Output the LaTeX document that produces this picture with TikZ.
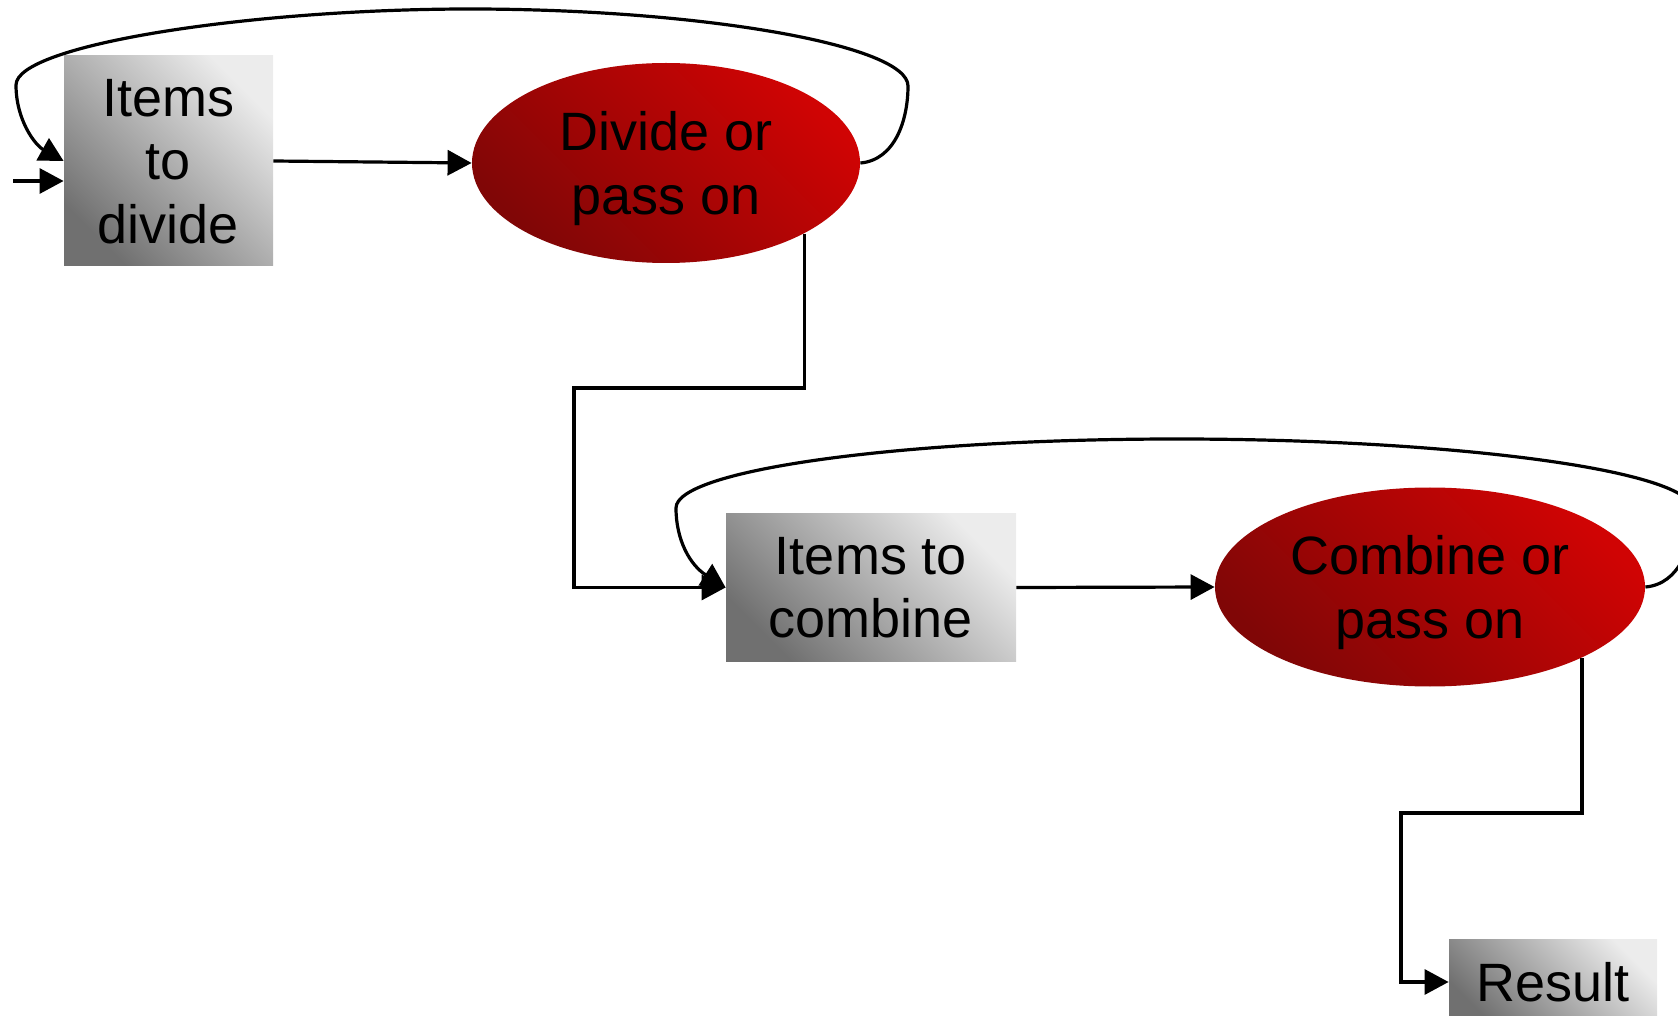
\documentclass[tikz,border=0pt]{standalone}
\usepackage{fontspec}
\setmainfont{Liberation Sans}
\usetikzlibrary{shapes.geometric,arrows.meta}
\definecolor{boxlight}{RGB}{236,236,236}
\definecolor{boxdark}{RGB}{112,112,112}
\definecolor{redlight}{RGB}{208,4,4}
\definecolor{reddark}{RGB}{128,6,6}
\begin{document}
\begin{tikzpicture}[x=0.5pt,y=-0.5pt,
  conn/.style={line width=1.6pt, draw=black},
  arr/.style={conn, -{Triangle[length=12pt,width=12.5pt]}},
  labelfont/.style={font=\fontsize{27}{31.75}\selectfont, align=center, text depth=0pt},
  gbox/.style={rectangle, inner sep=0pt, top color=boxlight, bottom color=boxdark, shading angle=-45, labelfont},
  redell/.style={ellipse, inner sep=0pt, top color=redlight, bottom color=reddark, shading angle=-45, labelfont}]
\clip (0,0) rectangle (1678,1016);
\node[gbox, minimum width=104.5pt, minimum height=105pt] (b1) at (168.5,161) {Items\\to\\divide};
\node[redell, minimum width=194pt, minimum height=100pt] (e1) at (666,163) {Divide or\\pass on};
\node[gbox, minimum width=145pt, minimum height=73.5pt] (b2) at (871,587.5) {Items to\\combine};
\node[redell, minimum width=215pt, minimum height=99.5pt] (e2) at (1430,587) {Combine or\\pass on};
\node[gbox, minimum width=104pt, minimum height=43pt] (res) at (1553,982) {Result};
\coordinate (in) at (13,181);
\draw[arr] (in) -- (in -| b1.west);
\draw[arr] (b1.east) -- (e1.west);
\draw[arr] (e1.east) .. controls (895,160) and (908,120) .. (908,86)
  .. controls (908,45) and (700,9) .. (470,9)
  .. controls (250,9) and (16,45) .. (16,85)
  .. controls (16,120) and (35,145) .. (b1.west);
\coordinate (k1) at (574,388);
\draw[arr] (e1.-27.4) |- (k1) |- (b2.west);
\draw[arr] (b2.east) -- (e2.west);
\draw[arr] (e2.east) .. controls (1680,584) and (1693,545) .. (1693,510)
  .. controls (1693,470) and (1450,439) .. (1177,439)
  .. controls (900,439) and (676,470) .. (676,508)
  .. controls (676,540) and (690,565) .. (b2.west);
\coordinate (k2) at (1401,813);
\draw[arr] (e2.-25) |- (k2) |- (res.west);
\end{tikzpicture}
\end{document}
